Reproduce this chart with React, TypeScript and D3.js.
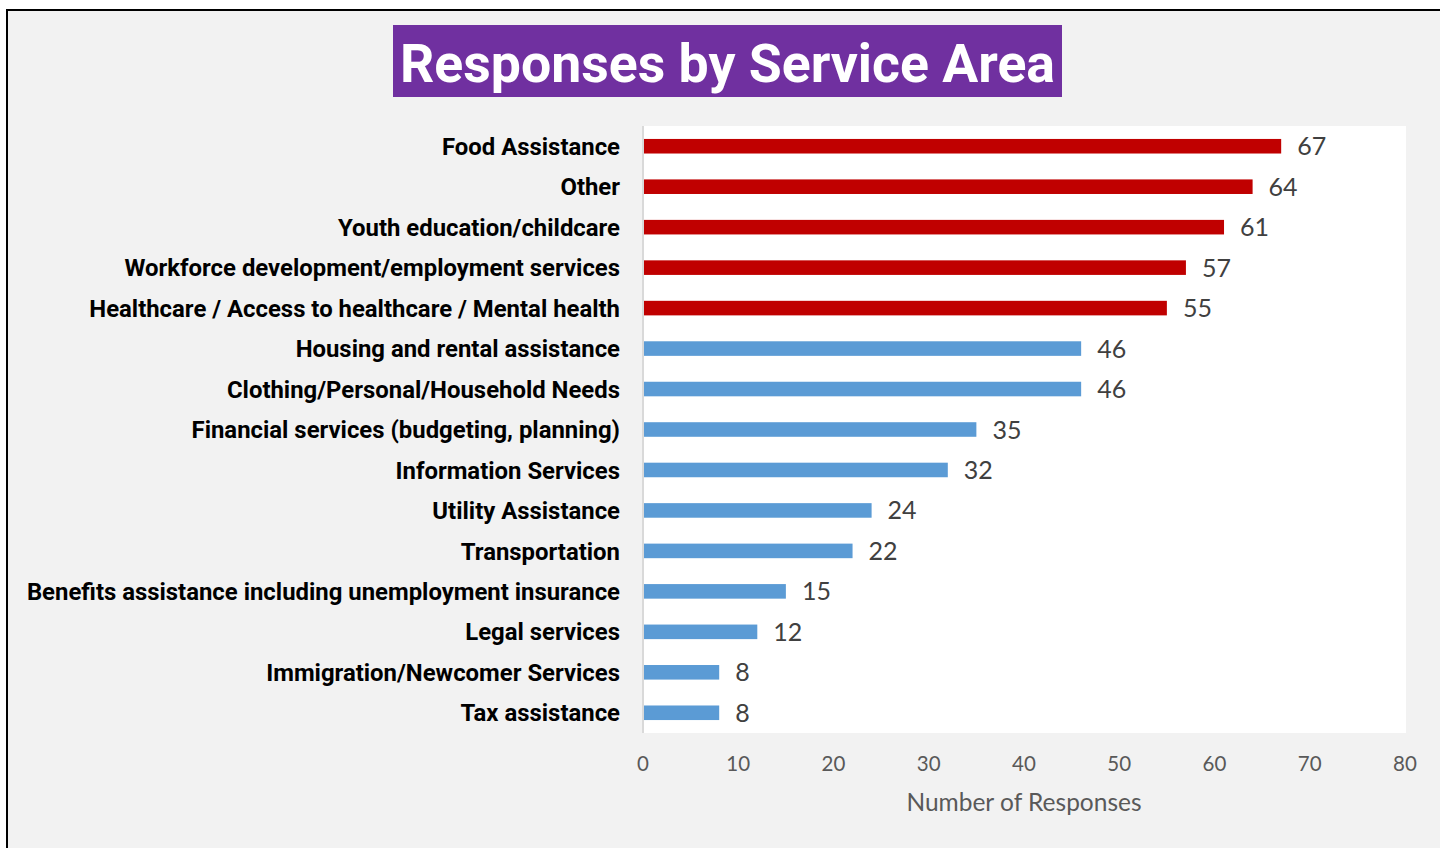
import React from "react";
import * as d3 from "d3";

const categories = [
  "Food Assistance",
  "Other",
  "Youth education/childcare",
  "Workforce development/employment services",
  "Healthcare / Access to healthcare / Mental health",
  "Housing and rental assistance",
  "Clothing/Personal/Household Needs",
  "Financial services (budgeting, planning)",
  "Information Services",
  "Utility Assistance",
  "Transportation",
  "Benefits assistance including unemployment insurance",
  "Legal services",
  "Immigration/Newcomer Services",
  "Tax assistance",
];
const values = [67, 64, 61, 57, 55, 46, 46, 35, 32, 24, 22, 15, 12, 8, 8];
const highlighted = [true, true, true, true, true, false, false, false, false, false, false, false, false, false, false];
const xTicks = [0, 10, 20, 30, 40, 50, 60, 70, 80];
const title = "Responses by Service Area";
const xAxisTitle = "Number of Responses";

export default function App() {
  const W = 1440;
  const H = 848;
  const plot = { left: 643, right: 1405, top: 126, bottom: 733 };
  const x = d3.scaleLinear().domain([0, 80]).range([plot.left, plot.right]);
  const y = d3
    .scaleBand<string>()
    .domain(categories)
    .range([plot.top, plot.bottom])
    .paddingInner(0.64)
    .paddingOuter(0.32);
  const bw = y.bandwidth();

  return (
    <div style={{ position: "fixed", left: 0, top: 0, width: W, height: H }}>
      <svg width={W} height={H} style={{ display: "block" }}>
        <rect x={0} y={0} width={W} height={H} fill="#ffffff" />
        <rect x={7} y={10} width={W + 20} height={H + 20} fill="#f2f2f2" stroke="#000" strokeWidth={2} />
        <rect x={393} y={25} width={669} height={72} fill="#7030a0" />
        <text
          x={727.5}
          y={82}
          textAnchor="middle"
          fill="#ffffff"
          fontFamily="Roboto"
          fontWeight={700}
          fontSize={53.6}
        >
          {title}
        </text>
        <rect x={plot.left} y={plot.top} width={plot.right - plot.left + 1} height={plot.bottom - plot.top} fill="#ffffff" />
        {categories.map((c, i) => (
          <g key={c}>
            <rect
              x={x(0)}
              y={y(c)!}
              width={x(values[i]) - x(0)}
              height={bw}
              fill={highlighted[i] ? "#c00000" : "#5b9bd5"}
            />
            <text
              x={620}
              y={y(c)! + bw / 2}
              dy="0.36em"
              textAnchor="end"
              fontFamily="Roboto"
              fontWeight={700}
              fontSize={23.9}
              fill="#000"
            >
              {c}
            </text>
            <text
              x={x(values[i]) + 16}
              y={y(c)! + bw / 2}
              dy="0.36em"
              fontFamily="Lato"
              fontSize={25}
              fill="#404040"
            >
              {values[i]}
            </text>
          </g>
        ))}
        <line x1={plot.left} x2={plot.left} y1={plot.top} y2={plot.bottom} stroke="#d9d9d9" strokeWidth={2} />
        {xTicks.map((t) => (
          <text
            key={t}
            x={x(t)}
            y={771}
            textAnchor="middle"
            fontFamily="Lato"
            fontSize={20.5}
            fill="#595959"
          >
            {t}
          </text>
        ))}
        <text
          x={(plot.left + plot.right) / 2}
          y={811}
          textAnchor="middle"
          fontFamily="Lato"
          fontSize={24.5}
          fill="#595959"
        >
          {xAxisTitle}
        </text>
      </svg>
    </div>
  );
}
